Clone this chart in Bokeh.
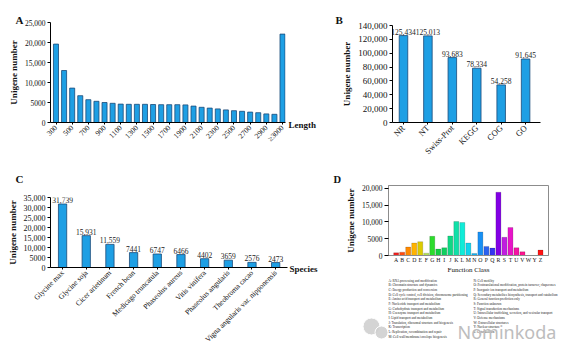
import math
from bokeh.plotting import figure
from bokeh.layouts import row, column
from bokeh.models import Range1d, FixedTicker, ColumnDataSource, Title
from bokeh.embed import file_html
from bokeh.resources import INLINE
from bokeh.core.properties import value

# ---------------- data ----------------
length_labels = ["300", "400", "500", "600", "700", "800", "900", "1000", "1100", "1200",
                 "1300", "1400", "1500", "1600", "1700", "1800", "1900", "2000", "2100", "2200",
                 "2300", "2400", "2500", "2600", "2700", "2800", "2900", "3000", "\u22653000"]
length_counts = [19600, 13000, 8600, 6700, 5700, 5300, 5000, 4800, 4600, 4550,
                 4550, 4550, 4500, 4450, 4450, 4450, 4400, 4100, 3800, 3600,
                 3400, 3150, 2950, 2800, 2600, 2450, 2150, 2050, 22100]
length_yticks = [0, 5000, 10000, 15000, 20000, 25000]

db_names = ["NR", "NT", "Swiss-Prot", "KEGG", "COG", "GO"]
db_counts = [125434, 125013, 93683, 78334, 54258, 91645]
db_yticks = [0, 20000, 40000, 60000, 80000, 100000, 120000, 140000]

species_names = ["Glycine max", "Glycine soja", "Cicer arietinum", "French bean",
                 "Medicago truncatula", "Phaseolus aureus", "Vitis vinifera",
                 "Phaseolus angularis", "Theobroma cacao", "Vigna angularis var. nipponensis"]
species_counts = [31739, 15931, 11559, 7441, 6747, 6466, 4402, 3659, 2576, 2473]
species_yticks = [0, 5000, 10000, 15000, 20000, 25000, 30000, 35000]

cog_classes = ["A", "B", "C", "D", "E", "F", "G", "H", "I", "J", "K", "L", "M",
               "N", "O", "P", "Q", "R", "S", "T", "U", "V", "W", "Y", "Z"]
cog_counts = [800, 1000, 2500, 3700, 4100, 700, 5700, 1900, 2300, 5800, 10100, 9800, 3700,
              600, 7000, 2700, 2200, 18800, 5400, 8300, 2300, 1100, 0, 0, 1600]
cog_colors = ["#f02020", "#ff4c10", "#ff8a00", "#ffb300", "#dccc00", "#b0e050", "#2cdc2c",
              "#12d040", "#10d060", "#10d884", "#10e0a8", "#10ecd8", "#10d4ec", "#10b0f4",
              "#1890f4", "#2a62f0", "#3434f0", "#8200e4", "#c020e0", "#e814c8", "#f414a4",
              "#ff1490", "#ff2020", "#ff2020", "#ff1414"]
cog_yticks = [0, 5000, 10000, 15000, 20000]
cog_desc_left = [
    "A: RNA processing and modification",
    "B: Chromatin structure and dynamics",
    "C: Energy production and conversion",
    "D: Cell cycle control, cell division, chromosome partitioning",
    "E: Amino acid transport and metabolism",
    "F: Nucleotide transport and metabolism",
    "G: Carbohydrate transport and metabolism",
    "H: Coenzyme transport and metabolism",
    "I: Lipid transport and metabolism",
    "J: Translation, ribosomal structure and biogenesis",
    "K: Transcription",
    "L: Replication, recombination and repair",
    "M: Cell wall/membrane/envelope biogenesis",
]
cog_desc_right = [
    "N: Cell motility",
    "O: Posttranslational modification, protein turnover, chaperones",
    "P: Inorganic ion transport and metabolism",
    "Q: Secondary metabolites biosynthesis, transport and catabolism",
    "R: General function prediction only",
    "S: Function unknown",
    "T: Signal transduction mechanisms",
    "U: Intracellular trafficking, secretion, and vesicular transport",
    "V: Defense mechanisms",
    "W: Extracellular structures",
    "Y: Nuclear structure",
    "Z: Cytoskeleton",
]

SERIF = "Liberation Serif"
BAR_FILL = "#1e9fe4"
BAR_LINE = "#1b4a78"
TXT = "#111111"


def fmt(v):
    return "{:,}".format(v) if v >= 10000 else str(v)


def no_align(p):
    try:
        p.frame_align = False
    except Exception:
        pass


def make_fig(w, h, frame, xr, yr):
    L, R, T, B = frame
    p = figure(width=w, height=h, output_backend="svg", toolbar_location=None,
               x_range=Range1d(*xr), y_range=Range1d(*yr),
               min_border_left=L, min_border_right=w - R,
               min_border_top=T, min_border_bottom=h - B)
    no_align(p)
    p.xgrid.visible = False
    p.ygrid.visible = False
    p.outline_line_color = None
    p.background_fill_color = "white"
    p.border_fill_color = "white"
    for ax in (p.xaxis[0], p.yaxis[0]):
        ax.axis_line_color = "black"
        ax.major_tick_line_color = "black"
        ax.minor_tick_line_color = None
        ax.major_label_text_font = SERIF
        ax.major_label_text_color = TXT
        ax.axis_label_text_font = SERIF
        ax.axis_label_text_color = TXT
        ax.axis_label_text_font_style = "bold"
        ax.major_tick_in = 0
    return p


def pixel_fig(w, h):
    """A bare figure whose frame fills it, with ranges in pixel units (y downward)."""
    p = figure(width=w, height=h, output_backend="svg", toolbar_location=None,
               x_range=Range1d(0, w), y_range=Range1d(h, 0),
               min_border_left=0, min_border_right=0, min_border_top=0, min_border_bottom=0)
    no_align(p)
    p.axis.visible = False
    p.grid.visible = False
    p.outline_line_color = None
    p.background_fill_color = "white"
    p.border_fill_color = "white"
    return p


def add_letter(p, text, offset, standoff, size="11px"):
    p.add_layout(Title(text=text, align="left", offset=offset, standoff=standoff,
                       text_font=SERIF, text_font_size=size, text_font_style="bold",
                       text_color=TXT), "above")


def add_spacer(p, size):
    p.add_layout(Title(text=" ", standoff=0, text_font=SERIF, text_font_size=size), "above")


def setup_y(p, ticks, size, label_standoff, tick_out=3):
    ax = p.yaxis[0]
    ax.ticker = FixedTicker(ticks=ticks)
    ax.major_label_overrides = {t: fmt(t) for t in ticks}
    ax.major_label_text_font_size = size
    ax.major_tick_out = tick_out
    ax.major_label_standoff = 2
    ax.axis_label = "Unigene number"
    ax.axis_label_text_font_size = "9px"
    ax.axis_label_standoff = label_standoff


# ---------------- panel A ----------------
wA, hA = 287, 170
frA = (50, 285, 22, 122)
xrA = (-0.68, len(length_labels) - 1 + 0.37)
yrA = (0, 25000)
pA = make_fig(wA, hA, frA, xrA, yrA)
srcA = ColumnDataSource(dict(x=list(range(len(length_labels))), top=length_counts))
pA.vbar(x="x", top="top", width=0.62, source=srcA, fill_color=BAR_FILL,
        line_color=BAR_LINE, line_width=0.8)
setup_y(pA, length_yticks, "7.5px", 3)
xa = pA.xaxis[0]
even = list(range(0, len(length_labels), 2))
xa.ticker = FixedTicker(ticks=even)
xa.major_label_overrides = {i: length_labels[i] for i in even}
xa.major_label_orientation = math.pi / 4
xa.major_label_text_font_size = "7.5px"
xa.major_tick_out = 2
xa.major_label_standoff = 2
add_letter(pA, "A", offset=-35, standoff=-6)

pLen = pixel_fig(33, 170)
pLen.text(x=[1], y=[124], text=["Length"], text_font=value(SERIF), text_font_size="9px",
          text_font_style="bold", text_baseline="middle", text_align="left", text_color=TXT)

# ---------------- panel B ----------------
wB, hB = 254, 170
frB = (72, 220, 25, 122)
xrB = (-0.45, len(db_names) - 1 + 0.61)
yrB = (0, 140000)
pB = make_fig(wB, hB, frB, xrB, yrB)
srcB = ColumnDataSource(dict(x=list(range(len(db_names))), top=db_counts,
                             lab=[fmt(v) for v in db_counts]))
pB.vbar(x="x", top="top", width=0.35, source=srcB, fill_color=BAR_FILL,
        line_color=BAR_LINE, line_width=0.8)
pB.text(x="x", y="top", text="lab", source=srcB, text_align="center",
        text_baseline="bottom", y_offset=-1, text_font=value(SERIF),
        text_font_size="7.5px", text_color="#222222")
setup_y(pB, db_yticks, "9px", 3)
xb = pB.xaxis[0]
xb.ticker = FixedTicker(ticks=list(range(len(db_names))))
xb.major_label_overrides = {i: n for i, n in enumerate(db_names)}
xb.major_label_orientation = math.pi / 4
xb.major_label_text_font_size = "8.5px"
xb.major_tick_out = 2
xb.major_label_standoff = 2
add_letter(pB, "B", offset=-57, standoff=-1)

# ---------------- panel C ----------------
wC, hC = 288, 183
frC = (50, 287, 25, 97)
xrC = (-0.51, len(species_names) - 1 + 0.5)
yrC = (0, 35000)
pC = make_fig(wC, hC, frC, xrC, yrC)
srcC = ColumnDataSource(dict(x=list(range(len(species_names))), top=species_counts,
                             lab=[fmt(v) for v in species_counts]))
pC.vbar(x="x", top="top", width=0.35, source=srcC, fill_color=BAR_FILL,
        line_color=BAR_LINE, line_width=0.8)
pC.text(x="x", y="top", text="lab", source=srcC, text_align="center",
        text_baseline="bottom", y_offset=-1, text_font=value(SERIF),
        text_font_size="7.5px", text_color="#222222")
setup_y(pC, species_yticks, "8px", 3)
xc = pC.xaxis[0]
xc.ticker = FixedTicker(ticks=list(range(len(species_names))))
xc.major_label_overrides = {i: n for i, n in enumerate(species_names)}
xc.major_label_orientation = math.pi / 4
xc.major_label_text_font_size = "7.5px"
xc.major_tick_out = 2
xc.major_label_standoff = 2
add_spacer(pC, "10px")
add_letter(pC, "C", offset=-35, standoff=0)

pSp = pixel_fig(32, 183)
pSp.text(x=[1], y=[98], text=["Species"], text_font=value(SERIF), text_font_size="9px",
         text_font_style="bold", text_baseline="middle", text_align="left", text_color=TXT)

# ---------------- panel D ----------------
wD, hD = 254, 106
frD = (68, 228, 14, 90)
xrD = (-1.28, len(cog_classes) - 1 + 1.33)
yrD = (0, 20800)
pD = make_fig(wD, hD, frD, xrD, yrD)
pD.outline_line_color = "#8c8c8c"
pD.outline_line_width = 1
srcD = ColumnDataSource(dict(x=list(range(len(cog_classes))), top=cog_counts, color=cog_colors))
pD.vbar(x="x", top="top", width=0.84, source=srcD, fill_color="color",
        line_color="black", line_alpha=0.25, line_width=0.6)
setup_y(pD, cog_yticks, "7.5px", 3, tick_out=4)
pD.yaxis[0].axis_line_color = "#8c8c8c"
xd = pD.xaxis[0]
xd.axis_line_color = "#8c8c8c"
xd.ticker = FixedTicker(ticks=list(range(len(cog_classes))))
xd.major_label_overrides = {i: n for i, n in enumerate(cog_classes)}
xd.major_label_text_font_size = "5.8px"
xd.major_tick_out = 0
xd.major_label_standoff = 1
xd.axis_label = "Function Class"
xd.axis_label_text_font_size = "7px"
xd.axis_label_text_font_style = "normal"
xd.axis_label_standoff = 0
add_letter(pD, "D", offset=-55, standoff=2, size="10.5px")

# legend of function classes + watermark, below panel D
pLeg = pixel_fig(254, 77)
n_left = len(cog_desc_left)
leg_col = [0] * n_left + [1] * len(cog_desc_right)
leg_row = list(range(n_left)) + list(range(len(cog_desc_right)))
leg_src = ColumnDataSource(dict(
    x=[68 + 85 * c for c in leg_col],
    y=[4 + 4.67 * r for r in leg_row],
    text=cog_desc_left + cog_desc_right))
pLeg.text(x="x", y="y", text="text", source=leg_src, text_font=value(SERIF),
          text_font_size="3.25px", text_baseline="middle", text_align="left", text_color="#1a1a1a")
# watermark (WeChat-style icon + name)
pLeg.scatter(x=[51], y=[50], marker="circle", size=17, fill_color="#cfcfcf",
             line_color="white", line_width=1, fill_alpha=0.9)
pLeg.scatter(x=[61], y=[56], marker="circle", size=13, fill_color="#cfcfcf",
             line_color="white", line_width=1, fill_alpha=0.9)
pLeg.text(x=[137], y=[55], text=["Nominkoda"], text_font=value("Noto Sans"),
          text_font_size="18px", text_baseline="alphabetic", text_align="left",
          text_color="#bdbdbd")

layout = column(row(pA, pLen, pB), row(pC, pSp, column(pD, pLeg)))
open("out.html", "w").write(file_html(layout, INLINE))
